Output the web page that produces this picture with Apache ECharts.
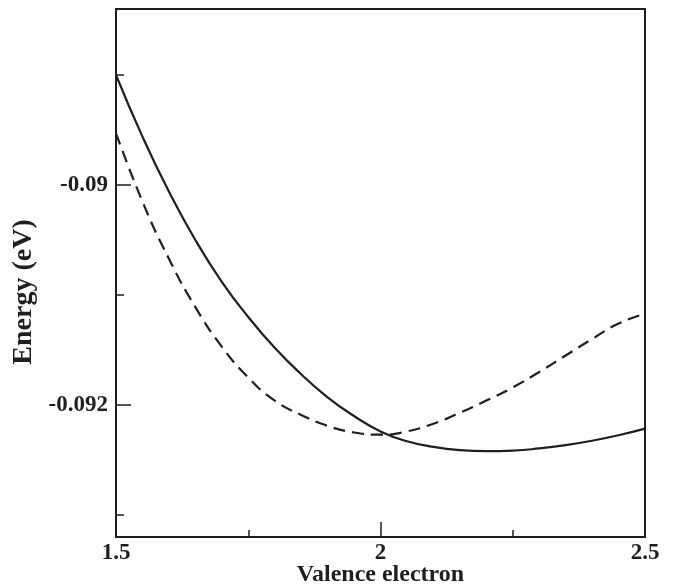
<!DOCTYPE html>
<html>
<head>
<meta charset="utf-8">
<script src="https://cdn.jsdelivr.net/npm/echarts@6/dist/echarts.min.js"></script>
<style>html,body{margin:0;padding:0;background:#fff}#c{width:675px;height:588px}</style>
</head>
<body>
<div id="c"></div>
<script>
const xValues = [1.5, 1.55, 1.6, 1.65, 1.7, 1.75, 1.8, 1.85, 1.9, 1.95, 2.0, 2.05, 2.1, 2.15, 2.2, 2.25, 2.3, 2.35, 2.4, 2.45, 2.5];
const solidEnergy = [-0.08900, -0.08956, -0.09006, -0.09050, -0.09088, -0.09120, -0.09148, -0.09172, -0.09193, -0.09210, -0.09224, -0.09233, -0.09238, -0.09241, -0.09242, -0.092415, -0.092395, -0.092365, -0.092325, -0.092275, -0.092215];
const dashedEnergy = [-0.08953, -0.09015, -0.09067, -0.09111, -0.09147, -0.09175, -0.09196, -0.09209, -0.09219, -0.09225, -0.09227, -0.09224, -0.09217, -0.09207, -0.09196, -0.09184, -0.09170, -0.09155, -0.09140, -0.09126, -0.09117];
const xMajorTicks = [1.5, 2, 2.5];
const xMinorTicks = [1.75, 2.25];
const yMajorTicks = [-0.092, -0.09];
const yMinorTicks = [-0.093, -0.091, -0.089];
const xTitle = 'Valence electron';
const yTitle = 'Energy (eV)';

const ink = '#1f1f1f';
const font = '"Liberation Serif", "Times New Roman", serif';
const pair = a => xValues.map((x, i) => [x, a[i]]);

const chart = echarts.init(document.getElementById('c'), null, {renderer: 'canvas'});
chart.setOption({
  animation: false,
  backgroundColor: '#fff',
  grid: {left: 116, right: 30, top: 9, bottom: 51, containLabel: false, outerBoundsMode: 'none',
         show: true, borderColor: ink, borderWidth: 2, backgroundColor: 'transparent'},
  xAxis: [
    {
      type: 'value', min: 1.5, max: 2.5, position: 'bottom',
      name: xTitle, nameLocation: 'middle', nameGap: 26, nameMoveOverlap: false,
      nameTextStyle: {fontFamily: font, fontWeight: 'bold', fontSize: 24, color: ink},
      axisLine: {show: true, lineStyle: {color: ink, width: 2}},
      axisTick: {show: true, inside: true, length: 15, customValues: xMajorTicks, lineStyle: {color: ink, width: 1.5}},
      axisLabel: {show: true, customValues: xMajorTicks, margin: 5, fontFamily: font, fontWeight: 'bold', fontSize: 23, color: ink, showMinLabel: true, showMaxLabel: true},
      splitLine: {show: false}
    },
    {
      type: 'value', min: 1.5, max: 2.5, position: 'bottom', gridIndex: 0,
      axisLine: {show: false},
      axisTick: {show: true, inside: true, length: 7, customValues: xMinorTicks, lineStyle: {color: ink, width: 1.5}},
      axisLabel: {show: false},
      splitLine: {show: false}
    }
  ],
  yAxis: [
    {
      type: 'value', min: -0.0932, max: -0.0884, position: 'left',
      name: yTitle, nameLocation: 'middle', nameGap: 78, nameRotate: 90, nameMoveOverlap: false,
      nameTextStyle: {fontFamily: font, fontWeight: 'bold', fontSize: 28, color: ink, padding: [0, 38, 0, 0]},
      axisLine: {show: true, lineStyle: {color: ink, width: 2}},
      axisTick: {show: true, inside: true, length: 15, customValues: yMajorTicks, lineStyle: {color: ink, width: 1.5}},
      axisLabel: {show: true, customValues: yMajorTicks, margin: 8, fontFamily: font, fontWeight: 'bold', fontSize: 23, color: ink},
      splitLine: {show: false}
    },
    {
      type: 'value', min: -0.0932, max: -0.0884, position: 'left', gridIndex: 0,
      axisLine: {show: false},
      axisTick: {show: true, inside: true, length: 8, customValues: yMinorTicks, lineStyle: {color: ink, width: 1.5}},
      axisLabel: {show: false},
      splitLine: {show: false}
    }
  ],
  series: [
    {
      type: 'line', xAxisIndex: 0, yAxisIndex: 0, data: pair(solidEnergy),
      smooth: 0.5, showSymbol: false, clip: true,
      lineStyle: {color: ink, width: 2.2, type: 'solid'}
    },
    {
      type: 'line', xAxisIndex: 0, yAxisIndex: 0, data: pair(dashedEnergy),
      smooth: 0.5, showSymbol: false, clip: true,
      lineStyle: {color: ink, width: 2.2, type: [12, 7]}
    }
  ]
});
</script>
</body>
</html>
